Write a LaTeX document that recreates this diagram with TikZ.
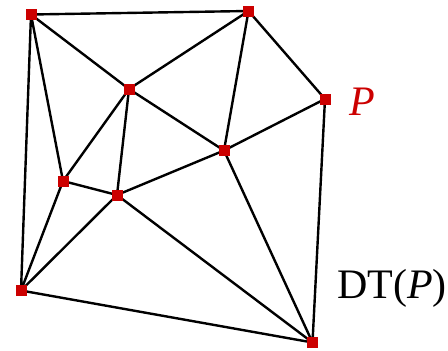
\documentclass[tikz,border=0pt]{standalone}
\usepackage{fontspec}
\setmainfont{Liberation Serif}
\usetikzlibrary{backgrounds}
\definecolor{ptred}{RGB}{204,0,0}
\begin{document}
\begin{tikzpicture}[x=1pt,y=-1pt,
  pt/.style={fill=ptred,draw=none,minimum size=11pt,inner sep=0pt,rectangle},
  edge/.style={line width=2.4pt,black}]
\useasboundingbox (0,0) rectangle (448,351);
\node[pt] (A) at (31,14.5) {};
\node[pt] (B) at (248.5,11) {};
\node[pt] (C) at (325,99) {};
\node[pt] (D) at (129,89) {};
\node[pt] (E) at (224,150.5) {};
\node[pt] (F) at (63,181) {};
\node[pt] (G) at (117,195) {};
\node[pt] (H) at (21,290.5) {};
\node[pt] (I) at (312.5,342.5) {};
\begin{pgfonlayer}{background}
\draw[edge] (A.center) -- (B.center) (A.center) -- (D.center) (A.center) -- (F.center) (A.center) -- (H.center)
  (B.center) -- (D.center) (B.center) -- (E.center) (B.center) -- (C.center)
  (C.center) -- (E.center) (C.center) -- (I.center)
  (D.center) -- (E.center) (D.center) -- (F.center) (D.center) -- (G.center)
  (F.center) -- (G.center) (F.center) -- (H.center)
  (G.center) -- (H.center) (G.center) -- (E.center) (G.center) -- (I.center)
  (E.center) -- (I.center) (H.center) -- (I.center);
\end{pgfonlayer}
\node[anchor=base west,inner sep=0pt,text=ptred,font=\fontsize{42}{42}\selectfont] (Plabel) at (349.5,115) {\textit{P}};
\node[anchor=base west,inner sep=0pt,font=\fontsize{42}{42}\selectfont] (DT) at (337,298) {DT(\textit{P})};
\end{tikzpicture}
\end{document}
